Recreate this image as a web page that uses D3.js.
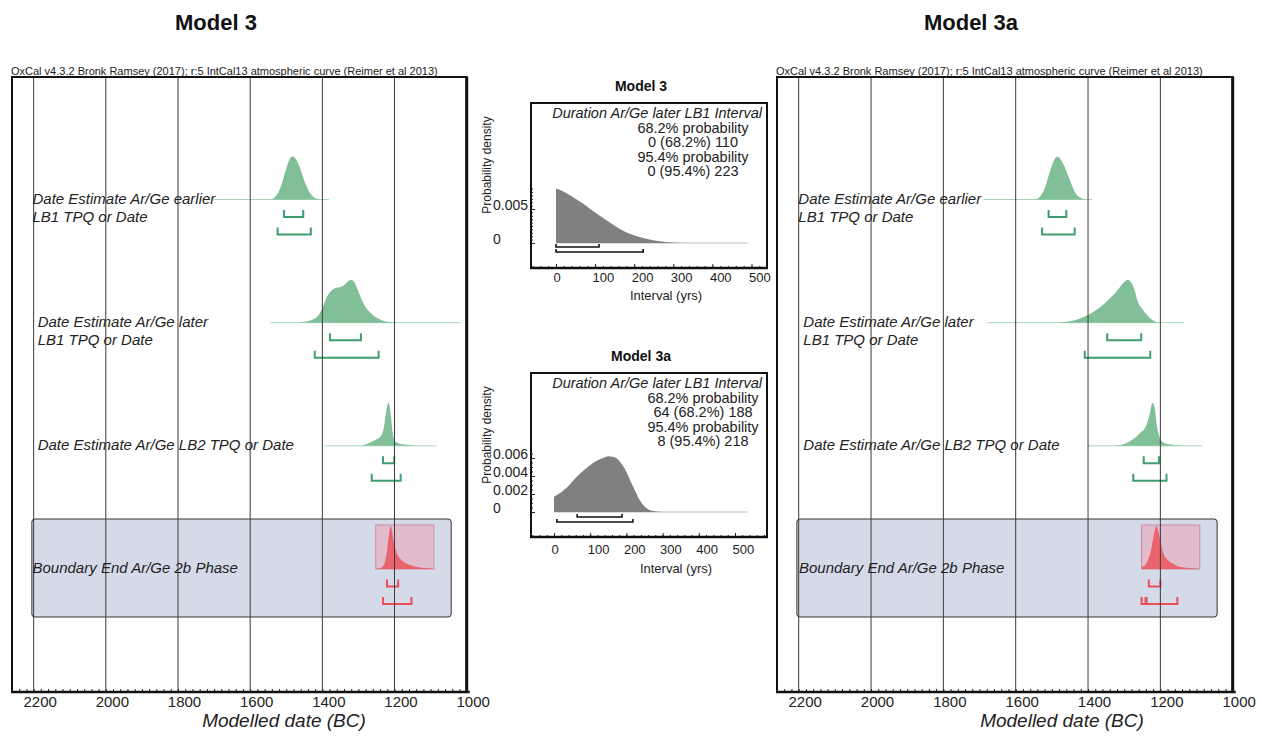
<!DOCTYPE html>
<html lang="en">
<head>
<meta charset="utf-8">
<title>Model 3 / Model 3a</title>
<script src="https://cdn.jsdelivr.net/npm/d3@7"></script>
<style>
  body { margin: 0; background: #fff; }
  svg { display: block; font-family: "Liberation Sans", Arial, sans-serif; }
</style>
</head>
<body>
<svg id="chart" width="1262" height="736"></svg>
<script>
// ---- data (years BC, relative heights) ----
var rowNames = ["earlier", "later", "lb2", "end"];
var rowLabels = [
  ["Date Estimate Ar/Ge earlier", "LB1 TPQ or Date"],
  ["Date Estimate Ar/Ge later", "LB1 TPQ or Date"],
  ["Date Estimate Ar/Ge LB2 TPQ or Date"],
  ["Boundary End Ar/Ge 2b Phase"]
];
var yearTicks = [2200, 2000, 1800, 1600, 1400, 1200, 1000];
var caption = "OxCal v4.3.2 Bronk Ramsey (2017); r:5 IntCal13 atmospheric curve (Reimer et al 2013)";
var phaseYears = [2205, 1043];

// Model 3
var m3Earlier = [[1545,0],[1535,0.03],[1525,0.12],[1515,0.3],[1505,0.58],[1495,0.85],[1487,0.98],[1482,1],[1475,0.96],[1465,0.8],[1455,0.56],[1445,0.33],[1435,0.16],[1425,0.06],[1415,0.02],[1405,0]];
var m3Later = [[1470,0],[1450,0.02],[1430,0.06],[1410,0.18],[1400,0.34],[1390,0.55],[1380,0.7],[1370,0.78],[1360,0.81],[1350,0.83],[1340,0.87],[1330,0.95],[1321,1],[1312,0.95],[1300,0.72],[1290,0.52],[1280,0.36],[1270,0.26],[1260,0.18],[1247,0.1],[1230,0.04],[1210,0.01],[1195,0]];
var m3Lb2 = [[1290,0],[1275,0.05],[1257,0.12],[1238,0.22],[1229,0.45],[1222,0.85],[1217,1],[1210,0.7],[1206,0.35],[1201,0.15],[1192,0.07],[1173,0.03],[1146,0.01],[1128,0]];
var m3End = [[1252,0],[1240,0.02],[1230,0.08],[1222,0.35],[1216,0.75],[1210,1],[1205,0.78],[1200,0.55],[1195,0.4],[1188,0.28],[1180,0.2],[1170,0.14],[1155,0.09],[1140,0.05],[1120,0.025],[1100,0.01],[1091,0]];
var m3Range68 = [[[1506,1453]], [[1379,1293]], [[1232,1201]], [[1221,1190]]];
var m3Range95 = [[[1524,1432]], [[1421,1244]], [[1263,1183]], [[1232,1153]]];
var m3Span = [[1701,1382], [1543,1017], [1395,1083], [1252,1091]];

// Model 3a
var m3aEarlier = [[1548,0],[1538,0.03],[1528,0.12],[1518,0.3],[1508,0.58],[1498,0.84],[1490,0.97],[1485,1],[1478,0.96],[1468,0.82],[1458,0.62],[1448,0.4],[1438,0.2],[1428,0.08],[1418,0.03],[1408,0]];
var m3aLater = [[1480,0],[1460,0.02],[1440,0.05],[1420,0.1],[1402,0.17],[1380,0.28],[1355,0.44],[1335,0.6],[1319,0.75],[1305,0.9],[1290,1],[1280,0.92],[1270,0.72],[1264,0.52],[1250,0.32],[1236,0.17],[1222,0.06],[1209,0.01],[1200,0]];
var m3aLb2 = [[1330,0],[1310,0.02],[1295,0.06],[1282,0.12],[1268,0.2],[1255,0.31],[1245,0.38],[1236,0.54],[1228,0.8],[1222,1],[1216,0.9],[1209,0.43],[1204,0.25],[1200,0.16],[1190,0.07],[1172,0.03],[1150,0.01],[1130,0]];
var m3aEnd = [[1252,0],[1250,0.06],[1244,0.07],[1235,0.2],[1227,0.39],[1218,0.79],[1211,1],[1206,0.9],[1201,0.7],[1192,0.37],[1184,0.25],[1176,0.18],[1165,0.12],[1153,0.07],[1130,0.03],[1110,0.015],[1094,0]];
var m3aRange68 = [[[1509,1460]], [[1347,1253]], [[1246,1204]], [[1232,1200]]];
var m3aRange95 = [[[1527,1437]], [[1409,1228]], [[1275,1183]], [[1252,1241],[1238,1153]]];
var m3aSpan = [[1689,1388], [1679,1135], [1402,1084], [1252,1091]];

// Duration plots
var intervalTicks = [0, 100, 200, 300, 400, 500];
var durHeading = "Duration Ar/Ge later LB1 Interval";
var dur3 = [[0,0.0080],[15,0.0077],[27,0.0073],[45,0.0067],[69,0.0058],[90,0.0049],[112,0.0040],[133,0.0032],[154,0.0024],[175,0.0017],[196,0.0012],[218,0.0008],[239,0.0005],[260,0.0003],[281,0.00015],[310,0.00005],[350,0.00001],[400,0]];
var dur3a = [[0,0.0017],[12,0.0020],[35,0.0027],[62,0.0039],[90,0.0049],[118,0.0057],[135,0.0060],[150,0.0062],[165,0.0061],[180,0.0057],[191,0.0051],[203,0.0042],[214,0.0032],[226,0.0022],[237,0.0013],[248,0.0007],[260,0.0003],[275,0.0001],[290,0.00002],[310,0]];
var dur3Text = ["68.2% probability", "0 (68.2%) 110", "95.4% probability", "0 (95.4%) 223"];
var dur3aText = ["68.2% probability", "64 (68.2%) 188", "95.4% probability", "8 (95.4%) 218"];
var dur3Range = [[0, 110], [0, 223]];
var dur3aRange = [[64, 188], [8, 218]];
var dur3YTicks = [0, 0.005];
var dur3aYTicks = [0, 0.002, 0.004, 0.006];

var svg = d3.select("#chart");
var FONT = "'Liberation Sans', Arial, sans-serif";

function bracketPath(x0, x1, y, up) {
  return "M" + x0 + "," + (y - up) + "V" + y + "H" + x1 + "V" + (y - up);
}

function drawModel(cfg) {
  var top = 77, bottom = 692;
  var x = d3.scaleLinear().domain([2260, 1000]).range([cfg.left, cfg.right]);
  var row = d3.scalePoint().domain(rowNames).range([199.5, 569]);
  var h = d3.scaleLinear().domain([0, 1]).range([0, 43]);
  var g = svg.append("g");

  g.append("text")
    .attr("x", cfg.titleX).attr("y", 30)
    .attr("text-anchor", "middle")
    .attr("font-size", 22).attr("font-weight", "bold").attr("fill", "#111")
    .text(cfg.title);

  g.append("text")
    .attr("x", cfg.left - 1).attr("y", 75)
    .attr("font-size", 11).attr("fill", "#222")
    .text(caption);

  // phase box
  g.append("rect")
    .attr("x", x(phaseYears[0])).attr("width", x(phaseYears[1]) - x(phaseYears[0]))
    .attr("y", row("end") - 50).attr("height", 98).attr("rx", 3)
    .attr("fill", "#d5dae9").attr("stroke", "#333").attr("stroke-width", 1);

  // pink boundary box
  var sEnd = cfg.span[3];
  g.append("rect")
    .attr("x", x(sEnd[0])).attr("width", x(sEnd[1]) - x(sEnd[0]))
    .attr("y", row("end") - 44).attr("height", 44)
    .attr("fill", "rgba(240,150,168,0.45)").attr("stroke", "#c88d9d").attr("stroke-width", 1);

  var area = d3.area().curve(d3.curveMonotoneX)
    .x(function (d) { return x(d[0]); })
    .y0(0)
    .y1(function (d) { return -h(d[1]); });

  rowNames.forEach(function (name, i) {
    var isEnd = name === "end";
    var rg = g.append("g").attr("transform", "translate(0," + row(name) + ")");
    if (!isEnd) {
      rg.append("line")
        .attr("x1", x(cfg.span[i][0])).attr("x2", x(cfg.span[i][1]))
        .attr("stroke", "#a9d6b9").attr("stroke-width", 1);
    }
    rg.append("path").datum(cfg.dists[i])
      .attr("d", area)
      .attr("fill", isEnd ? "#e9646c" : "#80bf98");
    var col = isEnd ? "#e8505c" : "#3f9e70";
    cfg.r68[i].forEach(function (r) {
      rg.append("path").attr("d", bracketPath(x(r[0]), x(r[1]), 17.5, 7))
        .attr("fill", "none").attr("stroke", col).attr("stroke-width", 2);
    });
    cfg.r95[i].forEach(function (r) {
      rg.append("path").attr("d", bracketPath(x(r[0]), x(r[1]), 35, 7))
        .attr("fill", "none").attr("stroke", col).attr("stroke-width", 2);
    });
  });

  // grid lines
  g.append("g").selectAll("line")
    .data(yearTicks.slice(0, -1))
    .join("line")
    .attr("x1", function (d) { return x(d); }).attr("x2", function (d) { return x(d); })
    .attr("y1", top).attr("y2", bottom)
    .attr("stroke", "#3a3a3a").attr("stroke-width", 1);

  // row labels
  rowNames.forEach(function (name, i) {
    rowLabels[i].forEach(function (line, k) {
      g.append("text")
        .attr("x", cfg.left + cfg.labelDx[i]).attr("y", row(name) + 4 + k * 18)
        .attr("font-size", 15).attr("font-style", "italic").attr("fill", "#222")
        .text(line);
    });
  });

  // frame
  g.append("rect")
    .attr("x", cfg.left).attr("y", top)
    .attr("width", cfg.right - cfg.left).attr("height", bottom - top)
    .attr("fill", "none").attr("stroke", "#111").attr("stroke-width", 2);
  g.append("line")
    .attr("x1", cfg.right).attr("x2", cfg.right).attr("y1", top).attr("y2", bottom)
    .attr("stroke", "#111").attr("stroke-width", 3);

  // axis
  var minor = g.append("g").attr("transform", "translate(0," + bottom + ")").attr("color", "#222")
    .call(d3.axisTop(x).tickValues(d3.range(1000, 2261, 20)).tickSize(3).tickFormat(""));
  minor.select(".domain").remove();

  var ax = g.append("g").attr("transform", "translate(0," + bottom + ")").attr("color", "#222")
    .call(d3.axisBottom(x).tickValues(yearTicks).tickSize(0).tickPadding(4.5).tickFormat(d3.format("d")));
  ax.select(".domain").remove();
  ax.selectAll("text").attr("font-size", 15).attr("font-family", FONT).attr("dx", 6);

  g.append("line")
    .attr("x1", cfg.left - 1).attr("x2", cfg.right + 3).attr("y1", bottom).attr("y2", bottom)
    .attr("stroke", "#111").attr("stroke-width", 2.5);

  g.append("text")
    .attr("x", cfg.axisTitleX).attr("y", 727)
    .attr("text-anchor", "middle")
    .attr("font-size", 19).attr("font-style", "italic").attr("fill", "#222")
    .text("Modelled date (BC)");
}

function drawDuration(cfg) {
  var left = 531, right = 767;
  var x = d3.scaleLinear().domain([0, 500]).range(cfg.xRange);
  var y = d3.scaleLinear().domain([0, cfg.yTicks[cfg.yTicks.length - 1]]).range(cfg.yRange);
  var base = y(0);
  var g = svg.append("g");

  g.append("text")
    .attr("x", 641).attr("y", cfg.top - 12)
    .attr("text-anchor", "middle")
    .attr("font-size", 14).attr("font-weight", "bold").attr("fill", "#111")
    .text(cfg.title);

  g.append("line")
    .attr("x1", x(0)).attr("x2", x(cfg.baseEnd)).attr("y1", base).attr("y2", base)
    .attr("stroke", "#bdbdbd").attr("stroke-width", 1);

  g.append("path").datum(cfg.density)
    .attr("d", d3.area().curve(d3.curveMonotoneX)
      .x(function (d) { return x(d[0]); })
      .y0(base)
      .y1(function (d) { return y(d[1]); }))
    .attr("fill", "#808080");

  cfg.ranges.forEach(function (r, i) {
    g.append("path").attr("d", bracketPath(x(r[0]), x(r[1]), base + cfg.bracketDy[i], 3))
      .attr("fill", "none").attr("stroke", "#111").attr("stroke-width", 1.6);
  });

  g.append("text")
    .attr("x", 762).attr("y", cfg.top + 15)
    .attr("text-anchor", "end")
    .attr("font-size", 14.5).attr("font-style", "italic").attr("fill", "#222")
    .text(durHeading);
  cfg.lines.forEach(function (t, i) {
    g.append("text")
      .attr("x", cfg.textX).attr("y", cfg.top + 30 + i * 14.3)
      .attr("text-anchor", "middle")
      .attr("font-size", 14.5).attr("fill", "#222")
      .text(t);
  });

  // frame
  g.append("rect")
    .attr("x", left).attr("y", cfg.top)
    .attr("width", right - left).attr("height", cfg.bottom - cfg.top)
    .attr("fill", "none").attr("stroke", "#111").attr("stroke-width", 2);

  // y axis
  var yMinor = g.append("g").attr("transform", "translate(" + left + ",0)").attr("color", "#222")
    .call(d3.axisRight(y).tickValues(d3.range(0, cfg.yMinorMax + 1e-9, 0.0005)).tickSize(2).tickFormat(""));
  yMinor.select(".domain").remove();
  var yAx = g.append("g").attr("transform", "translate(" + left + ",0)").attr("color", "#222")
    .call(d3.axisLeft(y).tickValues(cfg.yTicks).tickSize(-4).tickFormat(function (d) { return d === 0 ? "0" : d3.format(".3f")(d); }));
  yAx.select(".domain").remove();
  yAx.selectAll("text")
    .attr("text-anchor", "start").attr("x", 493 - left).attr("dy", "0")
    .attr("font-size", 14).attr("font-family", FONT);

  g.append("text")
    .attr("transform", "translate(491," + cfg.yLabelY + ") rotate(-90)")
    .attr("text-anchor", "middle")
    .attr("font-size", 12).attr("fill", "#222")
    .text("Probability density");

  // x axis
  var xMinor = g.append("g").attr("transform", "translate(0," + cfg.bottom + ")").attr("color", "#222")
    .call(d3.axisTop(x).tickValues(d3.range(-60, 581, 20).filter(function (d) { return x(d) > left && x(d) < right; })).tickSize(2).tickFormat(""));
  xMinor.select(".domain").remove();
  var xAx = g.append("g").attr("transform", "translate(0," + cfg.bottom + ")").attr("color", "#222")
    .call(d3.axisBottom(x).tickValues(intervalTicks).tickSize(-4).tickPadding(cfg.xTickPad));
  xAx.select(".domain").remove();
  xAx.selectAll("text")
    .attr("text-anchor", "start").attr("dx", -3)
    .attr("font-size", 13).attr("font-family", FONT);

  g.append("line")
    .attr("x1", left - 1).attr("x2", right + 1).attr("y1", cfg.bottom).attr("y2", cfg.bottom)
    .attr("stroke", "#111").attr("stroke-width", 2.5);

  g.append("text")
    .attr("x", cfg.xLabelX).attr("y", cfg.bottom + cfg.xLabelDy)
    .attr("text-anchor", "middle")
    .attr("font-size", 13).attr("fill", "#222")
    .text("Interval (yrs)");
}

drawModel({
  title: "Model 3", titleX: 216, left: 12, right: 466.7, axisTitleX: 284,
  dists: [m3Earlier, m3Later, m3Lb2, m3End],
  r68: m3Range68, r95: m3Range95, span: m3Span,
  labelDx: [20.5, 25.7, 25.7, 20.5]
});

drawModel({
  title: "Model 3a", titleX: 971, left: 777, right: 1232.7, axisTitleX: 1062,
  dists: [m3aEarlier, m3aLater, m3aLb2, m3aEnd],
  r68: m3aRange68, r95: m3aRange95, span: m3aSpan,
  labelDx: [21.3, 26.3, 26.3, 22]
});

drawDuration({
  title: "Model 3", top: 103, bottom: 268,
  xRange: [556, 751.5], yRange: [243, 209], yTicks: dur3YTicks, yMinorMax: 0.008,
  density: dur3, baseEnd: 490, ranges: dur3Range, bracketDy: [4, 9],
  lines: dur3Text, textX: 693, yLabelY: 165, xLabelX: 666, xTickPad: 5, xLabelDy: 32
});

drawDuration({
  title: "Model 3a", top: 373, bottom: 537,
  xRange: [554, 735], yRange: [512, 458], yTicks: dur3aYTicks, yMinorMax: 0.0065,
  density: dur3a, baseEnd: 535, ranges: dur3aRange, bracketDy: [5, 10],
  lines: dur3aText, textX: 703, yLabelY: 435, xLabelX: 676, xTickPad: 8, xLabelDy: 36
});
</script>
</body>
</html>
